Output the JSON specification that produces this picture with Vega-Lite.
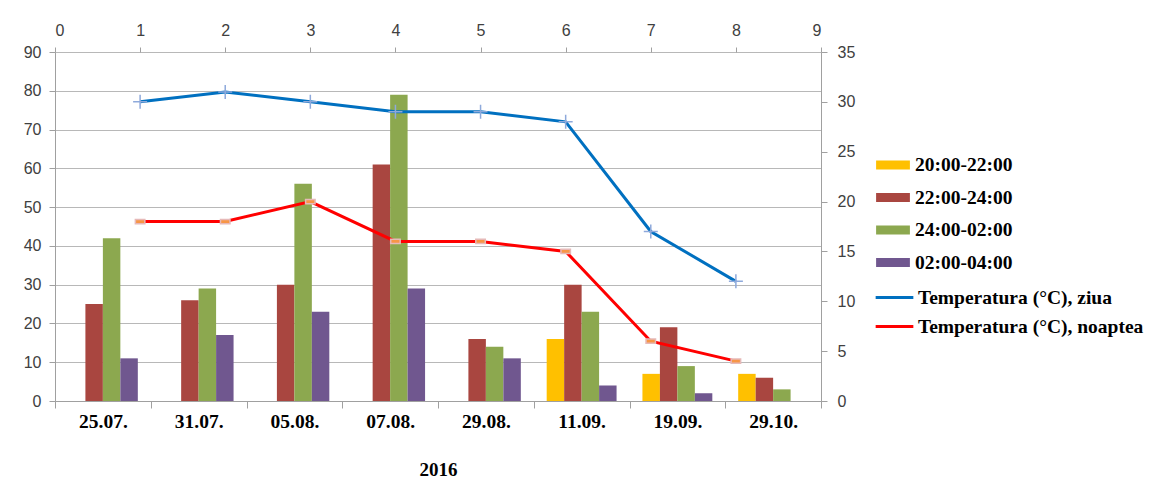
{
  "$schema": "https://vega.github.io/schema/vega-lite/v6.json",
  "width": 766,
  "height": 349,
  "autosize": {"type": "none"},
  "padding": {"left": 55, "top": 52, "right": 344, "bottom": 83},
  "background": "white",
  "config": {
    "view": {"stroke": null},
    "axis": {
      "labelFont": "Liberation Sans",
      "labelFontSize": 16,
      "labelColor": "#404040",
      "domainColor": "#a0a0a0",
      "tickColor": "#a0a0a0",
      "titleFont": "Liberation Serif",
      "gridColor": "#b8b8b8"
    },
    "legend": {
      "labelFont": "Liberation Serif",
      "labelFontSize": 19.5,
      "labelFontWeight": "bold",
      "labelColor": "black",
      "labelLimit": 320,
      "padding": 0,
      "title": null
    }
  },
  "datasets": {
    "bars": [
      {"data": "25.07.", "interval": "20:00-22:00", "valoare": 0},
      {"data": "25.07.", "interval": "22:00-24:00", "valoare": 25},
      {"data": "25.07.", "interval": "24:00-02:00", "valoare": 42},
      {"data": "25.07.", "interval": "02:00-04:00", "valoare": 11},
      {"data": "31.07.", "interval": "20:00-22:00", "valoare": 0},
      {"data": "31.07.", "interval": "22:00-24:00", "valoare": 26},
      {"data": "31.07.", "interval": "24:00-02:00", "valoare": 29},
      {"data": "31.07.", "interval": "02:00-04:00", "valoare": 17},
      {"data": "05.08.", "interval": "20:00-22:00", "valoare": 0},
      {"data": "05.08.", "interval": "22:00-24:00", "valoare": 30},
      {"data": "05.08.", "interval": "24:00-02:00", "valoare": 56},
      {"data": "05.08.", "interval": "02:00-04:00", "valoare": 23},
      {"data": "07.08.", "interval": "20:00-22:00", "valoare": 0},
      {"data": "07.08.", "interval": "22:00-24:00", "valoare": 61},
      {"data": "07.08.", "interval": "24:00-02:00", "valoare": 79},
      {"data": "07.08.", "interval": "02:00-04:00", "valoare": 29},
      {"data": "29.08.", "interval": "20:00-22:00", "valoare": 0},
      {"data": "29.08.", "interval": "22:00-24:00", "valoare": 16},
      {"data": "29.08.", "interval": "24:00-02:00", "valoare": 14},
      {"data": "29.08.", "interval": "02:00-04:00", "valoare": 11},
      {"data": "11.09.", "interval": "20:00-22:00", "valoare": 16},
      {"data": "11.09.", "interval": "22:00-24:00", "valoare": 30},
      {"data": "11.09.", "interval": "24:00-02:00", "valoare": 23},
      {"data": "11.09.", "interval": "02:00-04:00", "valoare": 4},
      {"data": "19.09.", "interval": "20:00-22:00", "valoare": 7},
      {"data": "19.09.", "interval": "22:00-24:00", "valoare": 19},
      {"data": "19.09.", "interval": "24:00-02:00", "valoare": 9},
      {"data": "19.09.", "interval": "02:00-04:00", "valoare": 2},
      {"data": "29.10.", "interval": "20:00-22:00", "valoare": 7},
      {"data": "29.10.", "interval": "22:00-24:00", "valoare": 6},
      {"data": "29.10.", "interval": "24:00-02:00", "valoare": 3},
      {"data": "29.10.", "interval": "02:00-04:00", "valoare": 0}
    ],
    "temps": [
      {"x": 1, "t": 30, "serie": "Temperatura (°C), ziua"},
      {"x": 2, "t": 31, "serie": "Temperatura (°C), ziua"},
      {"x": 3, "t": 30, "serie": "Temperatura (°C), ziua"},
      {"x": 4, "t": 29, "serie": "Temperatura (°C), ziua"},
      {"x": 5, "t": 29, "serie": "Temperatura (°C), ziua"},
      {"x": 6, "t": 28, "serie": "Temperatura (°C), ziua"},
      {"x": 7, "t": 17, "serie": "Temperatura (°C), ziua"},
      {"x": 8, "t": 12, "serie": "Temperatura (°C), ziua"},
      {"x": 1, "t": 18, "serie": "Temperatura (°C), noaptea"},
      {"x": 2, "t": 18, "serie": "Temperatura (°C), noaptea"},
      {"x": 3, "t": 20, "serie": "Temperatura (°C), noaptea"},
      {"x": 4, "t": 16, "serie": "Temperatura (°C), noaptea"},
      {"x": 5, "t": 16, "serie": "Temperatura (°C), noaptea"},
      {"x": 6, "t": 15, "serie": "Temperatura (°C), noaptea"},
      {"x": 7, "t": 6, "serie": "Temperatura (°C), noaptea"},
      {"x": 8, "t": 4, "serie": "Temperatura (°C), noaptea"}
    ]
  },
  "layer": [
    {
      "data": {"name": "bars"},
      "mark": {"type": "bar"},
      "encoding": {
        "x": {
          "field": "data",
          "type": "nominal",
          "sort": null,
          "scale": {"paddingInner": 0, "paddingOuter": 0},
          "axis": {
            "orient": "bottom",
            "title": "2016",
            "titleFontSize": 19,
            "titleFontWeight": "bold",
            "titleColor": "black",
            "titlePadding": 30,
            "labelAngle": 0,
            "labelFont": "Liberation Serif",
            "labelFontSize": 19.5,
            "labelFontWeight": "bold",
            "labelColor": "black",
            "labelPadding": 4,
            "tickBand": "extent",
            "tickSize": 7,
            "grid": false
          }
        },
        "xOffset": {
          "field": "interval",
          "type": "nominal",
          "sort": ["20:00-22:00", "22:00-24:00", "24:00-02:00", "02:00-04:00"],
          "scale": {"paddingOuter": 0.74, "paddingInner": 0}
        },
        "y": {
          "field": "valoare",
          "type": "quantitative",
          "scale": {"domain": [0, 90]},
          "axis": {
            "orient": "left",
            "title": null,
            "values": [0, 10, 20, 30, 40, 50, 60, 70, 80, 90],
            "grid": true,
            "tickSize": 6,
            "labelPadding": 8
          }
        },
        "fill": {
          "field": "interval",
          "type": "nominal",
          "sort": ["20:00-22:00", "22:00-24:00", "24:00-02:00", "02:00-04:00"],
          "scale": {
            "domain": ["20:00-22:00", "22:00-24:00", "24:00-02:00", "02:00-04:00"],
            "range": ["#FFC000", "#A94640", "#8CA84F", "#70578F"]
          },
          "legend": {
            "orient": "none",
            "legendX": 825,
            "legendY": 100,
            "symbolType": "M-1.3,-0.34L1.3,-0.34L1.3,0.34L-1.3,0.34Z",
            "symbolSize": 676,
            "symbolStrokeWidth": 0,
            "labelOffset": 9,
            "rowPadding": 9.5
          }
        }
      }
    },
    {
      "data": {"name": "temps"},
      "layer": [
        {
          "mark": {"type": "line", "strokeWidth": 3},
          "encoding": {
            "x": {
              "field": "x",
              "type": "quantitative",
              "scale": {"domain": [0, 9], "nice": false},
              "axis": {
                "orient": "top",
                "title": null,
                "values": [0, 1, 2, 3, 4, 5, 6, 7, 8, 9],
                "format": "d",
                "grid": false,
                "domain": false,
                "tickSize": 5,
                "labelPadding": 9
              }
            },
            "y": {
              "field": "t",
              "type": "quantitative",
              "scale": {"domain": [0, 35], "nice": false},
              "axis": {
                "orient": "right",
                "title": null,
                "values": [0, 5, 10, 15, 20, 25, 30, 35],
                "grid": false,
                "tickSize": 6,
                "labelPadding": 10
              }
            },
            "stroke": {
              "field": "serie",
              "type": "nominal",
              "sort": ["Temperatura (°C), ziua", "Temperatura (°C), noaptea"],
              "scale": {
                "domain": ["Temperatura (°C), ziua", "Temperatura (°C), noaptea"],
                "range": ["#0070C0", "#FF0000"]
              },
              "legend": {
                "orient": "none",
                "legendX": 825,
                "legendY": 231,
                "symbolType": "M-1.45,0L1.45,0",
                "symbolSize": 676,
                "symbolStrokeWidth": 3,
                "labelOffset": 9,
                "rowPadding": 5
              }
            }
          }
        },
        {
          "transform": [{"filter": "datum.serie == 'Temperatura (°C), ziua'"}],
          "mark": {"type": "point", "shape": "M-1,0L1,0M0,-1L0,1", "filled": false, "stroke": "#8EA9DB", "strokeWidth": 1.5, "size": 196, "opacity": 1},
          "encoding": {
            "x": {"field": "x", "type": "quantitative"},
            "y": {"field": "t", "type": "quantitative"}
          }
        },
        {
          "transform": [{"filter": "datum.serie == 'Temperatura (°C), noaptea'"}],
          "mark": {"type": "point", "shape": "M-1,-0.45L1,-0.45L1,0.45L-1,0.45Z", "filled": true, "fill": "#F79646", "stroke": "#E6B9B8", "strokeWidth": 1.5, "size": 90, "opacity": 1},
          "encoding": {
            "x": {"field": "x", "type": "quantitative"},
            "y": {"field": "t", "type": "quantitative"}
          }
        }
      ]
    }
  ],
  "resolve": {
    "scale": {"x": "independent", "y": "independent"},
    "axis": {"x": "independent", "y": "independent"}
  }
}
